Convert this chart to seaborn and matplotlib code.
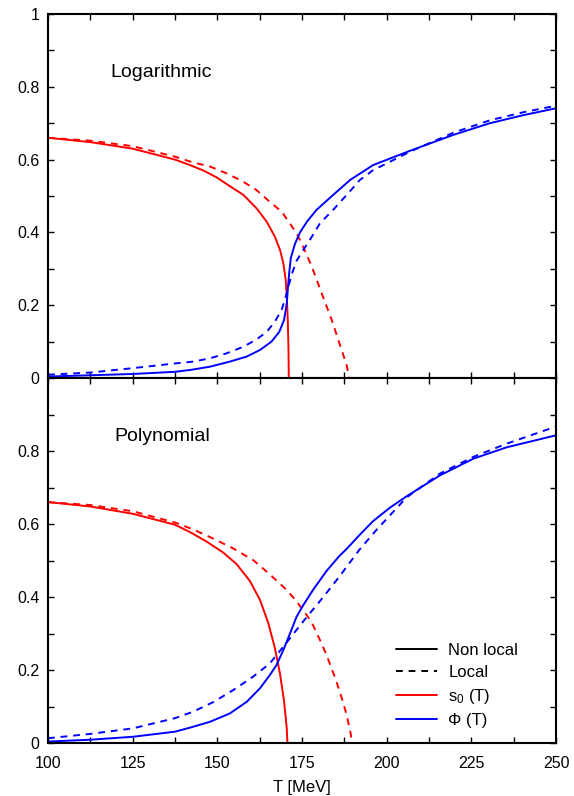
import numpy as np
import pandas as pd
import matplotlib
matplotlib.use("Agg")
import matplotlib.pyplot as plt
from matplotlib.ticker import MultipleLocator, FixedLocator
from matplotlib.lines import Line2D
import seaborn as sns

# ---------------- data ----------------
# Logarithmic panel
log_s0_nl_T = [100, 112.5, 125, 137.5, 141.9, 145.9, 149.8, 153.7, 157.7, 161.6, 164.6, 167.0, 168.5, 169.5, 170.2, 170.5, 170.8, 171.0, 171.1]
log_s0_nl_v = [0.660, 0.648, 0.630, 0.600, 0.585, 0.570, 0.551, 0.527, 0.503, 0.466, 0.429, 0.388, 0.352, 0.315, 0.269, 0.223, 0.159, 0.086, 0.0]
log_s0_l_T = [100, 112.5, 125, 137.5, 142.9, 147.8, 152.8, 157.7, 161.6, 165.5, 169.0, 171.4, 173.4, 174.9, 177.9, 180.8, 183.8, 186.7, 188.2, 188.9]
log_s0_l_v = [0.660, 0.652, 0.637, 0.608, 0.592, 0.581, 0.562, 0.539, 0.516, 0.484, 0.457, 0.425, 0.397, 0.370, 0.306, 0.233, 0.159, 0.077, 0.035, 0.0]
log_phi_nl_T = [100, 125, 137.5, 141.9, 147.8, 153.7, 158.7, 162.6, 166.0, 168.3, 169.7, 170.5, 170.8, 171.2, 171.7, 172.9, 174.4, 176.5, 179.3, 184.2, 189.2, 196, 207.4, 219.7, 230.5, 240.3, 250]
log_phi_nl_v = [0.004, 0.011, 0.017, 0.022, 0.031, 0.045, 0.059, 0.077, 0.100, 0.127, 0.159, 0.205, 0.242, 0.287, 0.330, 0.368, 0.400, 0.430, 0.462, 0.503, 0.544, 0.585, 0.626, 0.668, 0.700, 0.722, 0.741]
log_phi_l_T = [100, 112.5, 125, 137.5, 142.9, 147.8, 152.8, 157.7, 161.6, 164.6, 167.0, 169.0, 170.5, 171.9, 173.4, 175.4, 177.9, 180.3, 184.2, 188.2, 192.1, 196, 207.4, 219.7, 230.5, 240.3, 250]
log_phi_l_v = [0.009, 0.015, 0.027, 0.040, 0.045, 0.054, 0.068, 0.086, 0.106, 0.127, 0.155, 0.187, 0.233, 0.283, 0.322, 0.352, 0.388, 0.425, 0.462, 0.503, 0.544, 0.571, 0.624, 0.674, 0.708, 0.730, 0.748]

# Polynomial panel
pol_s0_nl_T = [100, 112.5, 125, 137.5, 141.9, 146.8, 151.7, 155.7, 159.6, 162.6, 165.0, 167.0, 168.5, 169.7, 170.5, 170.7]
pol_s0_nl_v = [0.660, 0.648, 0.628, 0.598, 0.578, 0.552, 0.522, 0.490, 0.444, 0.392, 0.330, 0.260, 0.190, 0.115, 0.040, 0.0]
pol_s0_l_T = [100, 112.5, 125, 137.5, 142.9, 148.8, 154.7, 160.6, 165.5, 170.5, 173.4, 176.8, 178.3, 180.5, 182.3, 185.2, 187.0, 188.2, 189.4, 189.7]
pol_s0_l_v = [0.660, 0.652, 0.635, 0.604, 0.585, 0.560, 0.533, 0.501, 0.462, 0.419, 0.388, 0.345, 0.322, 0.278, 0.240, 0.168, 0.115, 0.077, 0.025, 0.0]
pol_phi_nl_T = [100, 112.5, 125, 137.5, 141.9, 147.8, 153.7, 158.7, 162.6, 165.5, 167.5, 169.5, 171.5, 173.4, 175.4, 178.3, 182.3, 186, 188.2, 192, 196, 201, 205.9, 215.7, 225.6, 235.4, 250]
pol_phi_nl_v = [0.004, 0.009, 0.017, 0.031, 0.042, 0.058, 0.081, 0.113, 0.150, 0.186, 0.214, 0.255, 0.301, 0.346, 0.378, 0.420, 0.472, 0.512, 0.532, 0.570, 0.608, 0.645, 0.676, 0.733, 0.779, 0.810, 0.843]
pol_phi_l_T = [100, 112.5, 125, 137.5, 142.9, 148.8, 154.7, 160.6, 165.5, 169.5, 173.4, 176.4, 181.3, 186.2, 188.2, 192, 197, 205.9, 215.7, 225.6, 235.4, 250]
pol_phi_l_v = [0.013, 0.025, 0.040, 0.068, 0.086, 0.112, 0.145, 0.182, 0.218, 0.264, 0.310, 0.345, 0.400, 0.458, 0.483, 0.530, 0.584, 0.673, 0.738, 0.784, 0.820, 0.867]

panel_titles = ["Logarithmic", "Polynomial"]
x_ticks = [100, 125, 150, 175, 200, 225, 250]
legend_labels = ["Non local", "Local", "s$_0$ (T)", "\u03a6 (T)"]

RED = "#ff0000"
BLUE = "#0000ff"
DASH = [3.5, 3.0]

sns.set_theme(style="ticks")
plt.rcParams["font.family"] = ["Liberation Sans", "DejaVu Sans"]
plt.rcParams["mathtext.fontset"] = "custom"
plt.rcParams["mathtext.rm"] = "Liberation Sans"
plt.rcParams["mathtext.it"] = "Liberation Sans"
plt.rcParams["text.color"] = "black"
plt.rcParams["xtick.color"] = "black"
plt.rcParams["ytick.color"] = "black"
plt.rcParams["axes.labelcolor"] = "black"

fig = plt.figure(figsize=(5.74, 7.96), dpi=100)
ax_top = fig.add_axes([48/574, 1-378/796, 508/574, 364/796])
ax_bot = fig.add_axes([48/574, 1-743/796, 508/574, 365/796])

panels = [
    (ax_top, [(log_s0_nl_T, log_s0_nl_v, RED, "-"), (log_s0_l_T, log_s0_l_v, RED, "--"),
              (log_phi_nl_T, log_phi_nl_v, BLUE, "-"), (log_phi_l_T, log_phi_l_v, BLUE, "--")]),
    (ax_bot, [(pol_s0_nl_T, pol_s0_nl_v, RED, "-"), (pol_s0_l_T, pol_s0_l_v, RED, "--"),
              (pol_phi_nl_T, pol_phi_nl_v, BLUE, "-"), (pol_phi_l_T, pol_phi_l_v, BLUE, "--")]),
]
title_x = [0.122, 0.130]

for i, (ax, curves) in enumerate(panels):
    for T, v, col, ls in curves:
        df = pd.DataFrame({"T": T, "v": v})
        sns.lineplot(data=df, x="T", y="v", ax=ax, color=col, sort=False,
                     estimator=None, legend=False, linewidth=1.4)
        line = ax.get_lines()[-1]
        line.set_solid_joinstyle("round")
        if ls == "--":
            line.set_dashes(DASH)
    ax.set_xlim(100, 250)
    ax.set_ylim(0, 1)
    ax.xaxis.set_major_locator(FixedLocator(x_ticks))
    ax.xaxis.set_minor_locator(MultipleLocator(12.5))
    ax.yaxis.set_major_locator(MultipleLocator(0.2))
    ax.yaxis.set_minor_locator(MultipleLocator(0.1))
    ax.tick_params(which="both", direction="in", top=True, right=True,
                   length=4.5, width=1.0, color="black", labelsize=11.5)
    ax.tick_params(axis="y", pad=6)
    ax.tick_params(axis="x", pad=9)
    for s in ax.spines.values():
        s.set_linewidth(1.5)
        s.set_color("black")
    ax.set_xlabel("")
    ax.set_ylabel("")
    ax.text(title_x[i], 0.84, panel_titles[i], transform=ax.transAxes, fontsize=14,
            ha="left", va="center")

ax_top.set_xticklabels([])
ax_top.set_yticks([0, 0.2, 0.4, 0.6, 0.8, 1.0])
ax_top.set_yticklabels(["0", "0.2", "0.4", "0.6", "0.8", "1"])
ax_bot.set_yticks([0, 0.2, 0.4, 0.6, 0.8])
ax_bot.set_yticklabels(["0", "0.2", "0.4", "0.6", "0.8"])
ax_bot.set_xticklabels([str(t) for t in x_ticks])
ax_bot.set_xlabel("T [MeV]", fontsize=12, labelpad=7)

handles = [
    Line2D([], [], color="black", lw=1.4, ls="-"),
    Line2D([], [], color="black", lw=1.4, dashes=DASH),
    Line2D([], [], color=RED, lw=1.4),
    Line2D([], [], color=BLUE, lw=1.4),
]
ax_bot.legend(handles, legend_labels, loc="lower right", bbox_to_anchor=(0.955, 0.0),
              frameon=False, fontsize=12, handlelength=2.5, handletextpad=0.65,
              labelspacing=0.42)

fig.savefig("out.png", dpi=100)
